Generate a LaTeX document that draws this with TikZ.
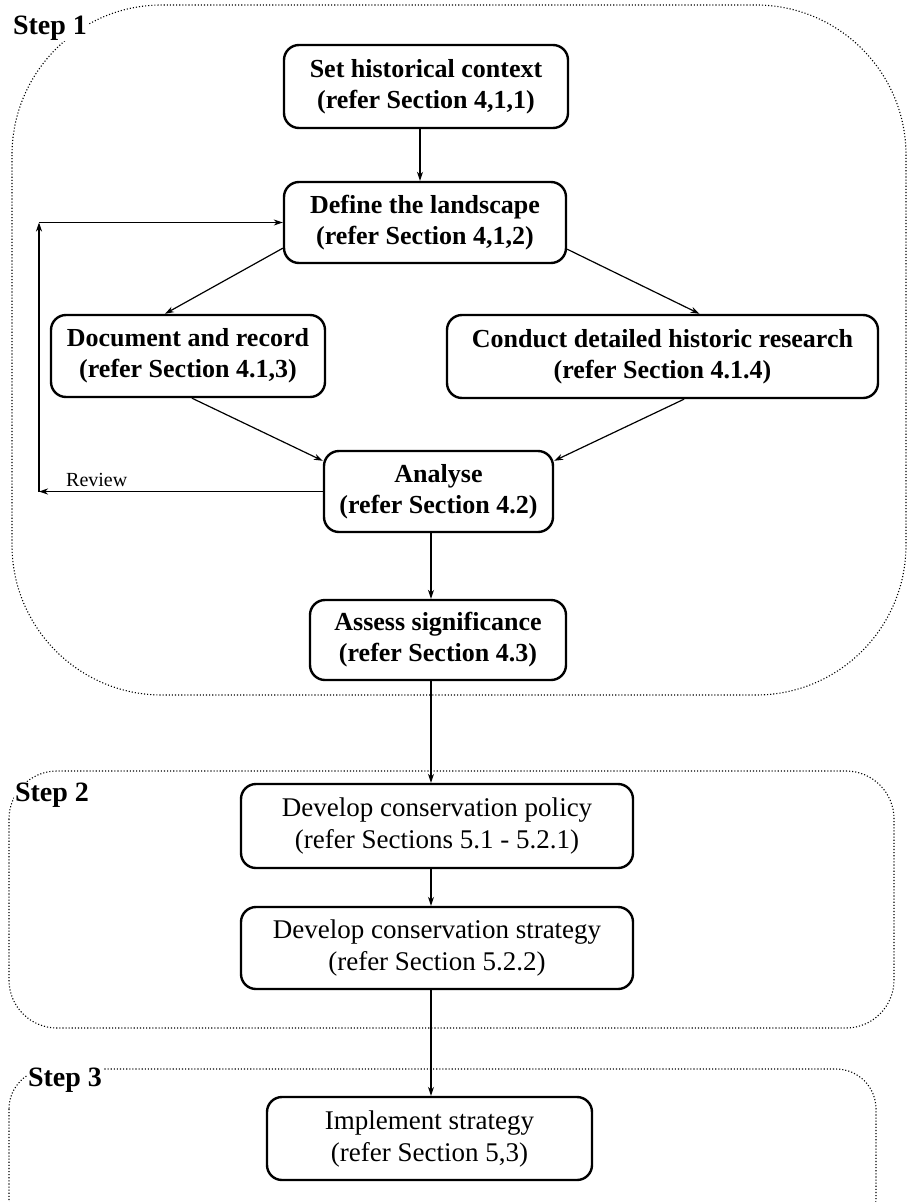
\documentclass[tikz,border=0pt]{standalone}
\usepackage{fontspec}
\setmainfont{Liberation Serif}
\usetikzlibrary{arrows.meta,calc}
\begin{document}
\begin{tikzpicture}[x=1pt,y=-1pt,
  boxA/.style={draw,line width=2.4pt,rounded corners=15pt,align=center,inner sep=0pt,
     font=\fontsize{26}{31}\selectfont\bfseries},
  boxB/.style={draw,line width=2.4pt,rounded corners=15pt,align=center,inner sep=0pt,
     font=\fontsize{27}{32}\selectfont},
  arr/.style={line width=1.2pt,-{Stealth[length=9pt,width=6pt]}},
  region/.style={draw=black,line width=1.1pt,dotted},
  steplabel/.style={font=\fontsize{28}{30}\selectfont\bfseries,fill=white,inner sep=1pt}]
\useasboundingbox (0,0) rectangle (910,1202);
\clip (0,0) rectangle (910,1202);
\fill[white] (0,0) rectangle (910,1202);
% regions
\draw[region,rounded corners=150pt] (12,5) rectangle (906,695);
\draw[region,rounded corners=48pt] (9,771) rectangle (894,1028);
\draw[region,rounded corners=40pt] (9,1069) rectangle (876,1240);
\node[steplabel] (s1) at (50,28) {Step 1};
\node[steplabel] (s2) at (52,795) {Step 2};
\node[steplabel] (s3) at (65,1080) {Step 3};
% boxes
\node[boxA,minimum width=284pt,minimum height=83pt] (hist) at (426,86.5) {Set historical context\\(refer Section 4,1,1)};
\node[boxA,minimum width=282pt,minimum height=81pt] (land) at (425,222.5) {Define the landscape\\(refer Section 4,1,2)};
\node[boxA,minimum width=274pt,minimum height=82pt] (doc) at (188,356) {Document and record\\(refer Section 4.1,3)};
\node[boxA,minimum width=431pt,minimum height=83pt] (res) at (662.5,356.5) {Conduct detailed historic research\\(refer Section 4.1.4)};
\node[boxA,minimum width=229pt,minimum height=81pt] (ana) at (438.5,491.5) {Analyse\\(refer Section 4.2)};
\node[boxA,minimum width=256pt,minimum height=80pt] (sig) at (438,640) {Assess significance\\(refer Section 4.3)};
\node[boxB,minimum width=392pt,minimum height=84pt] (pol) at (437,826) {Develop conservation policy\\(refer Sections 5.1 - 5.2.1)};
\node[boxB,minimum width=392pt,minimum height=82pt] (str) at (437,948) {Develop conservation strategy\\(refer Section 5.2.2)};
\node[boxB,minimum width=325pt,minimum height=83pt] (imp) at (429.5,1138.5) {Implement strategy\\(refer Section 5,3)};
% helper coordinates
\coordinate (spineA) at (420,0);
\coordinate (spine) at (431,0);
\coordinate (fbA) at (39,491.5);
\coordinate (fbB) at (39,222.5);
% connectors
\draw[arr] (hist.south -| spineA) -- (land.north -| spineA);
\draw[arr] ([yshift=16pt]land.south west) -- ([xshift=-23pt]doc.north);
\draw[arr] ([yshift=15pt]land.south east) -- ([xshift=37pt]res.north);
\draw[arr] ([xshift=4pt]doc.south) -- ([yshift=-11pt]ana.north west);
\draw[arr] ([xshift=21.5pt]res.south) -- ([yshift=-11pt]ana.north east);
\draw[arr] (ana.west) -- (fbA);
\draw[arr] (fbA) -- (fbB);
\draw[arr] (fbB) -- (land.west);
\node[font=\fontsize{20}{22}\selectfont,anchor=south west,inner sep=1pt] (rev) at (65,488) {Review};
\draw[arr] (ana.south -| spine) -- (sig.north -| spine);
\draw[arr] (sig.south -| spine) -- (pol.north -| spine);
\draw[arr] (pol.south -| spine) -- (str.north -| spine);
\draw[arr] (str.south -| spine) -- (imp.north -| spine);
\end{tikzpicture}
\end{document}
